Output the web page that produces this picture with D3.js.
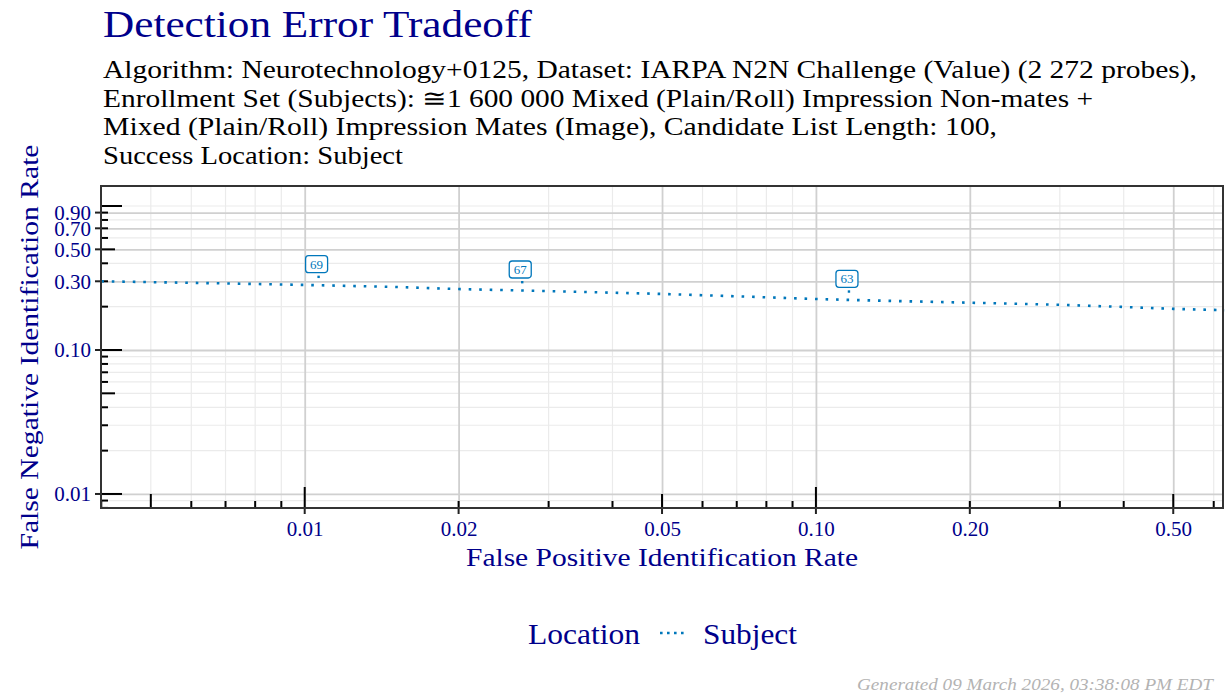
<!DOCTYPE html>
<html>
<head>
<meta charset="utf-8">
<script src="https://cdn.jsdelivr.net/npm/d3@7"></script>
<style>
  body { margin: 0; background: #fff; }
  svg text { font-family: "Liberation Serif", "DejaVu Serif", serif; }
</style>
</head>
<body>
<svg width="1225" height="696"></svg>
<script>
// curve (FPIR vs FNIR, log-log)
const fpir = [0.004, 0.005, 0.007, 0.01, 0.015, 0.02, 0.0264, 0.035, 0.05, 0.07, 0.1, 0.115, 0.15, 0.2, 0.3, 0.4, 0.5, 0.63];
const fnir = [0.300, 0.296, 0.290, 0.283, 0.274, 0.265, 0.259, 0.253, 0.245, 0.236, 0.226, 0.223, 0.218, 0.213, 0.206, 0.199, 0.193, 0.189];

// threshold labels on the curve
const labelFpir = [0.01055, 0.0264, 0.115];
const labelFnir = [0.282, 0.259, 0.223];
const labelText = ["69", "67", "63"];

const xBreaks = [0.01, 0.02, 0.05, 0.1, 0.2, 0.5];
const xLabels = ["0.01", "0.02", "0.05", "0.10", "0.20", "0.50"];
const yBreaks = [0.01, 0.1, 0.3, 0.5, 0.7, 0.9];
const yLabels = ["0.01", "0.10", "0.30", "0.50", "0.70", "0.90"];

const title = "Detection Error Tradeoff";
const subtitle = [
  "Algorithm: Neurotechnology+0125, Dataset: IARPA N2N Challenge (Value) (2 272 probes),",
  "Enrollment Set (Subjects):  \u22451 600 000 Mixed (Plain/Roll) Impression Non-mates +",
  "Mixed (Plain/Roll) Impression Mates (Image), Candidate List Length: 100,",
  "Success Location: Subject"
];
const subtitleWidth = [1094, 990, 894, 300];

const svg = d3.select('svg');
const width = +svg.attr("width");
const height = +svg.attr("height");

const margin = { top: 186, left: 101, right: 2, bottom: 188 };
const innerWidth = width - margin.left - margin.right;
const innerHeight = height - margin.top - margin.bottom;

const navy = "#00008B";
const blue = "#0077BB";

const xScale = d3.scaleLog().domain([0.003995, 0.6256]).range([0, innerWidth]);
const yScale = d3.scaleLog().domain([0.00799, 1.377]).range([innerHeight, 0]);

// every 1..9 x 10^k inside the domain
const logSteps = (lo, hi) => {
  const out = [];
  for (let e = -4; e <= 1; e++) {
    for (let k = 1; k <= 9; k++) {
      const v = +(k * Math.pow(10, e)).toPrecision(3);
      if (v >= lo && v <= hi) out.push({ v, k });
    }
  }
  return out;
};
const xSteps = logSteps(...xScale.domain());
const ySteps = logSteps(...yScale.domain());
const isMajor = (v, breaks) => breaks.some(b => Math.abs(b - v) / b < 1e-6);

const g = svg.append('g')
  .attr('transform', `translate(${margin.left},${margin.top})`);

// minor grid
g.append('g').selectAll('line')
  .data(xSteps.filter(d => !isMajor(d.v, xBreaks)))
  .join('line')
  .attr('x1', d => xScale(d.v)).attr('x2', d => xScale(d.v))
  .attr('y1', 0).attr('y2', innerHeight)
  .attr('stroke', '#ebebeb').attr('stroke-width', 1.2);
g.append('g').selectAll('line')
  .data(ySteps.filter(d => !isMajor(d.v, yBreaks)))
  .join('line')
  .attr('y1', d => yScale(d.v)).attr('y2', d => yScale(d.v))
  .attr('x1', 0).attr('x2', innerWidth)
  .attr('stroke', '#ebebeb').attr('stroke-width', 1.2);

// axes with major grid lines
const xAxisGroup = g.append('g')
  .attr('transform', `translate(0,${innerHeight})`)
  .call(d3.axisBottom(xScale)
    .tickValues(xBreaks)
    .tickFormat((d, i) => xLabels[i])
    .tickSizeInner(-innerHeight)
    .tickSizeOuter(0)
    .tickPadding(13));
const yAxisGroup = g.append('g')
  .call(d3.axisLeft(yScale)
    .tickValues(yBreaks)
    .tickFormat((d, i) => yLabels[i])
    .tickSizeInner(-innerWidth)
    .tickSizeOuter(0)
    .tickPadding(10));

[xAxisGroup, yAxisGroup].forEach(ax => {
  ax.select('.domain').remove();
  ax.selectAll('.tick line').attr('stroke', '#d0d0d0').attr('stroke-width', 1.8);
  ax.selectAll('.tick text')
    .attr('fill', navy)
    .attr('font-size', 21)
    .attr('font-family', '"Liberation Serif", serif');
});
xAxisGroup.selectAll('.tick text').attr('dy', '0.71em');

// outward ticks at labelled breaks
g.append('g').selectAll('line')
  .data(xBreaks)
  .join('line')
  .attr('x1', d => xScale(d)).attr('x2', d => xScale(d))
  .attr('y1', innerHeight).attr('y2', innerHeight + 6)
  .attr('stroke', '#222').attr('stroke-width', 2);
g.append('g').selectAll('line')
  .data(yBreaks)
  .join('line')
  .attr('y1', d => yScale(d)).attr('y2', d => yScale(d))
  .attr('x1', -6).attr('x2', 0)
  .attr('stroke', '#222').attr('stroke-width', 2);

// log ticks inside the panel
const tickLen = k => k === 1 ? 21 : (k === 5 ? 14 : 7);
g.append('g').selectAll('line')
  .data(xSteps)
  .join('line')
  .attr('x1', d => xScale(d.v)).attr('x2', d => xScale(d.v))
  .attr('y1', innerHeight).attr('y2', d => innerHeight - tickLen(d.k))
  .attr('stroke', '#000').attr('stroke-width', 2);
g.append('g').selectAll('line')
  .data(ySteps)
  .join('line')
  .attr('y1', d => yScale(d.v)).attr('y2', d => yScale(d.v))
  .attr('x1', 0).attr('x2', d => tickLen(d.k))
  .attr('stroke', '#000').attr('stroke-width', 2);

// the curve
const curve = fpir.map((x, i) => ({ x, y: fnir[i] }));
const line = d3.line()
  .x(d => xScale(d.x))
  .y(d => yScale(d.y));

g.append('path')
  .datum(curve)
  .attr('d', line)
  .attr('fill', 'none')
  .attr('stroke', blue)
  .attr('stroke-width', 2.6)
  .attr('stroke-dasharray', '2.6,7.9');

// threshold labels
const labels = g.append('g').selectAll('g')
  .data(labelText.map((t, i) => ({ t, x: labelFpir[i], y: labelFnir[i] })))
  .join('g')
  .attr('transform', d => `translate(${xScale(d.x)},${yScale(d.y) - 8.5})`);
labels.append('rect')
  .attr('x', 0.8).attr('y', -1)
  .attr('width', 2.4).attr('height', 2.4)
  .attr('fill', blue);
labels.append('rect')
  .attr('x', -11).attr('y', -21)
  .attr('width', 22).attr('height', 17)
  .attr('rx', 3)
  .attr('fill', '#fff')
  .attr('stroke', blue)
  .attr('stroke-width', 1.3);
labels.append('text')
  .attr('x', 0).attr('y', -8)
  .attr('text-anchor', 'middle')
  .attr('font-size', 13)
  .attr('fill', blue)
  .text(d => d.t);

// panel border
g.append('rect')
  .attr('width', innerWidth).attr('height', innerHeight)
  .attr('fill', 'none')
  .attr('stroke', '#333').attr('stroke-width', 2);

// axis titles
svg.append('text')
  .attr('x', margin.left + innerWidth / 2)
  .attr('y', 566)
  .attr('text-anchor', 'middle')
  .attr('font-size', 26)
  .attr('fill', navy)
  .attr('textLength', 392)
  .attr('lengthAdjust', 'spacingAndGlyphs')
  .text('False Positive Identification Rate');
svg.append('text')
  .attr('transform', `translate(38,${margin.top + innerHeight / 2}) rotate(-90)`)
  .attr('text-anchor', 'middle')
  .attr('font-size', 26)
  .attr('fill', navy)
  .attr('textLength', 405)
  .attr('lengthAdjust', 'spacingAndGlyphs')
  .text('False Negative Identification Rate');

// title and subtitle
svg.append('text')
  .attr('x', 103).attr('y', 37)
  .attr('font-size', 37)
  .attr('fill', navy)
  .attr('textLength', 429)
  .attr('lengthAdjust', 'spacingAndGlyphs')
  .text(title);
svg.append('g').selectAll('text')
  .data(subtitle)
  .join('text')
  .attr('x', 103)
  .attr('y', (d, i) => 78 + i * 28.5)
  .attr('font-size', 25)
  .attr('fill', '#000')
  .attr('textLength', (d, i) => subtitleWidth[i])
  .attr('lengthAdjust', 'spacingAndGlyphs')
  .text(d => d);

// legend
const legend = svg.append('g');
legend.append('text')
  .attr('x', 528).attr('y', 644)
  .attr('font-size', 29)
  .attr('fill', navy)
  .attr('textLength', 112)
  .attr('lengthAdjust', 'spacingAndGlyphs')
  .text('Location');
legend.append('line')
  .attr('x1', 660).attr('x2', 684)
  .attr('y1', 633).attr('y2', 633)
  .attr('stroke', blue)
  .attr('stroke-width', 2.6)
  .attr('stroke-dasharray', '2.6,4.4');
legend.append('text')
  .attr('x', 703).attr('y', 644)
  .attr('font-size', 29)
  .attr('fill', navy)
  .attr('textLength', 94)
  .attr('lengthAdjust', 'spacingAndGlyphs')
  .text('Subject');

// footer
svg.append('text')
  .attr('x', 1213).attr('y', 690)
  .attr('text-anchor', 'end')
  .attr('font-size', 17)
  .attr('font-style', 'italic')
  .attr('fill', '#b3b3b3')
  .attr('textLength', 356)
  .attr('lengthAdjust', 'spacingAndGlyphs')
  .text('Generated 09 March 2026, 03:38:08 PM EDT');
</script>
</body>
</html>
